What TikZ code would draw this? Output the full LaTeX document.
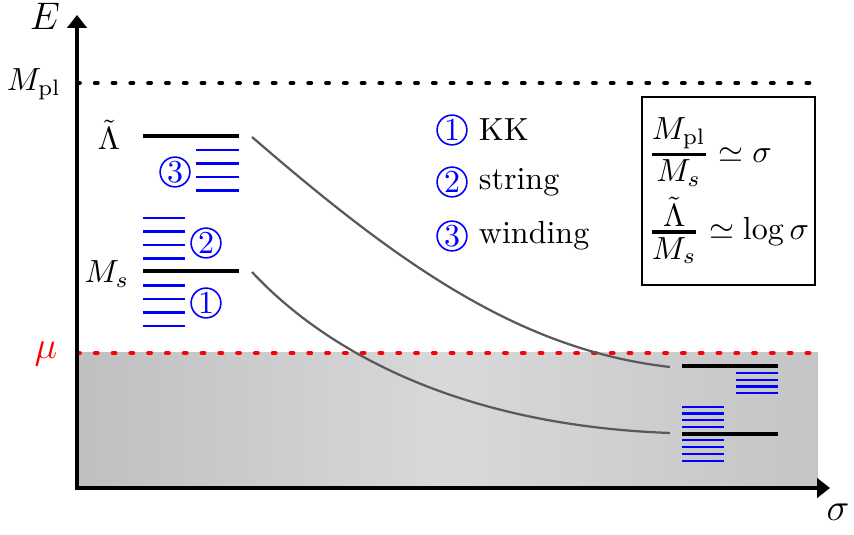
\documentclass[tikz,border=0pt]{standalone}
\usepackage{amsmath}
\usepackage{amssymb}
\usepackage{tikz}
\usetikzlibrary{positioning,arrows.meta}

\begin{document}
\begin{tikzpicture}[
        x=0.3125pt, y=-0.3125pt,
        axis/.style={line width=1.3pt, -{Triangle[length=4pt,width=6pt]}},
        cutline/.style={line width=1.25pt, line cap=round, dash pattern=on 0.9pt off 4.66pt},
        level/.style={line width=1pt},
        sublevel/.style={blue, line width=0.75pt},
        flow/.style={gray!70!black, line width=0.7pt},
        numcirc/.style={circle, draw=blue, text=blue, line width=0.5pt, inner sep=0pt, minimum size=9.3pt}
    ]
        \useasboundingbox (0,0) rectangle (854,535);

        % region below mu
        \shade[left color=black!25, right color=black!23, middle color=black!15] (77,353) rectangle (818,488);

        % cut-offs
        \coordinate (plL) at (77,83);
        \coordinate (plR) at (815,83);
        \coordinate (muL) at (77,353);
        \coordinate (muR) at (818,353);
        \draw[cutline] (plL) -- (plR);
        \draw[cutline, red] (muL) -- (muR);

        % axes
        \coordinate (origin) at (77,488);
        \coordinate (etop) at (77,15);
        \coordinate (sright) at (830,488);
        \draw[axis] (origin) -- (etop);
        \draw[axis] ([xshift=-0.65pt]origin) -- (sright);
        \node[anchor=base, font=\large] (elab) at (45,30) {$E$};
        \node[anchor=base, font=\large] (slab) at (838,521) {$\sigma$};
        \node[anchor=base] (mpl) at (34,91) {$M_{\rm pl}$};
        \node[anchor=base, font=\large, red] (mu) at (46,359) {$\mu$};

        % levels at small sigma
        \coordinate (lamL) at (143,136);
        \coordinate (lamR) at (239,136);
        \coordinate (msL) at (143,271);
        \coordinate (msR) at (239,271);
        \draw[level] (lamL) -- (lamR);
        \draw[level] (msL) -- (msR);
        \foreach \y in {150,163.5,177,190.5}
            \draw[sublevel] (196,\y) -- (239,\y);
        \foreach \y in {218,231.5,245,258.5,285.5,299,312.5,326}
            \draw[sublevel] (143,\y) -- (185,\y);
        \node[anchor=base] (lam) at (109,150) {$\tilde\Lambda$};
        \node[anchor=base] (ms) at (107,283) {$M_s$};
        \node[numcirc] (w1) at (175,172) {3};
        \node[numcirc] (s1) at (206,243) {2};
        \node[numcirc] (k1) at (206,303) {1};

        % levels at large sigma
        \coordinate (lamL2) at (682,366);
        \coordinate (lamR2) at (778,366);
        \coordinate (msL2) at (682,434);
        \coordinate (msR2) at (778,434);
        \draw[level] (lamL2) -- (lamR2);
        \draw[level] (msL2) -- (msR2);
        \foreach \y in {373,380,386.5,393}
            \draw[sublevel] (736,\y) -- (778,\y);
        \foreach \y in {407,413.5,420,427,440,447,454,461}
            \draw[sublevel] (682,\y) -- (724,\y);

        % running of the scales
        \coordinate (lamA) at (252,137);
        \coordinate (lamB) at (670,367);
        \coordinate (msA) at (252,272);
        \coordinate (msB) at (670,433);
        \draw[flow] (lamA) .. controls (400,265) and (520,350) .. (lamB);
        \draw[flow] (msA) .. controls (320,345) and (450,425) .. (msB);

        % legend
        \node[numcirc] (k2) at (452,130) {1};
        \node[numcirc] (s2) at (452,182) {2};
        \node[numcirc] (w2) at (452,236) {3};
        \node[right=0pt of k2] (kk) {KK};
        \node[right=0pt of s2] (str) {string};
        \node[right=0pt of w2] (wind) {winding};

        % relations
        \node[draw, line width=0.6pt, inner sep=1pt, minimum width=54pt, minimum height=59pt, align=left] (ratios) at (728.5,191)
            {$\genfrac{}{}{1.1pt}{1}{\displaystyle M_{\rm pl}}{\displaystyle M_s}\simeq\sigma$\\[2.4pt]
             $\genfrac{}{}{1.1pt}{1}{\displaystyle\tilde\Lambda}{\displaystyle M_s}\simeq\log\sigma$};
    \end{tikzpicture}
\end{document}
